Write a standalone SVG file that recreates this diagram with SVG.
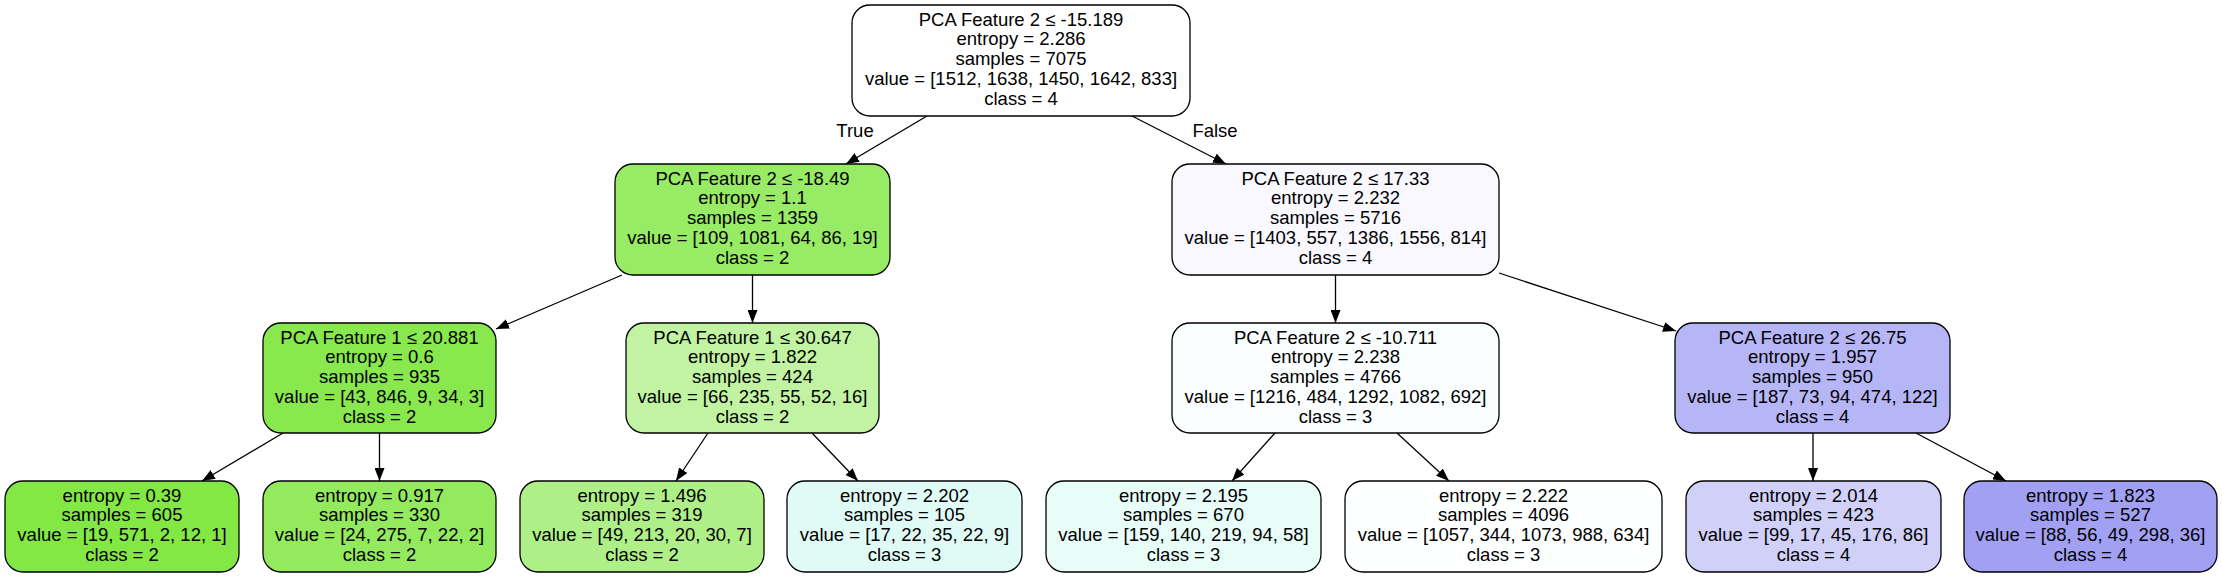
<svg xmlns="http://www.w3.org/2000/svg" width="2222" height="577" viewBox="0 0 2222 577">
<style>
.node rect{stroke:#000;stroke-width:1.3}
text{font-family:"Liberation Sans",Arial,Helvetica,sans-serif;font-size:18.5px;text-anchor:middle;fill:#000}
.edges line{stroke:#000;stroke-width:1.3;marker-end:url(#arr)}
</style>
<defs>
<marker id="arr" viewBox="0 0 13 10" refX="13" refY="5" markerWidth="13" markerHeight="10" markerUnits="userSpaceOnUse" orient="auto">
<path d="M0,0 L13,5 L0,10 z" fill="#000"/>
</marker>
</defs>
<rect width="2222" height="577" fill="#fff"/>
<g class="edges" id="edges">
<line x1="927" y1="116" x2="846" y2="164"/>
<line x1="1132" y1="116" x2="1226" y2="164"/>
<line x1="622" y1="275" x2="496" y2="329"/>
<line x1="752.5" y1="275" x2="752.5" y2="323"/>
<line x1="1335.5" y1="275" x2="1335.5" y2="323"/>
<line x1="1499" y1="273" x2="1676" y2="331"/>
<line x1="283" y1="433" x2="202" y2="481"/>
<line x1="379.5" y1="433" x2="379.5" y2="481"/>
<line x1="708" y1="433" x2="676" y2="481"/>
<line x1="812" y1="433" x2="858" y2="481"/>
<line x1="1275" y1="433" x2="1232" y2="481"/>
<line x1="1397" y1="433" x2="1449" y2="481"/>
<line x1="1813" y1="433" x2="1813" y2="481"/>
<line x1="1916" y1="433" x2="2006" y2="481"/>
<text x="855" y="137">True</text>
<text x="1215" y="137">False</text>
</g>
<g class="node" id="n0">
<rect x="852" y="5" width="338" height="111" rx="18" fill="#ffffff"/>
<text x="1021" y="25.5">PCA Feature 2 ≤ -15.189</text>
<text x="1021" y="45.25">entropy = 2.286</text>
<text x="1021" y="65">samples = 7075</text>
<text x="1021" y="84.75">value = [1512, 1638, 1450, 1642, 833]</text>
<text x="1021" y="104.5">class = 4</text>
</g>
<g class="node" id="n1">
<rect x="615" y="164" width="275" height="111" rx="18" fill="#98eb65"/>
<text x="752.5" y="184.5">PCA Feature 2 ≤ -18.49</text>
<text x="752.5" y="204.25">entropy = 1.1</text>
<text x="752.5" y="224">samples = 1359</text>
<text x="752.5" y="243.75">value = [109, 1081, 64, 86, 19]</text>
<text x="752.5" y="263.5">class = 2</text>
</g>
<g class="node" id="n2">
<rect x="1172" y="164" width="327" height="111" rx="18" fill="#f8f8fe"/>
<text x="1335.5" y="184.5">PCA Feature 2 ≤ 17.33</text>
<text x="1335.5" y="204.25">entropy = 2.232</text>
<text x="1335.5" y="224">samples = 5716</text>
<text x="1335.5" y="243.75">value = [1403, 557, 1386, 1556, 814]</text>
<text x="1335.5" y="263.5">class = 4</text>
</g>
<g class="node" id="n3">
<rect x="263" y="323" width="233" height="110" rx="18" fill="#88e84d"/>
<text x="379.5" y="343.5">PCA Feature 1 ≤ 20.881</text>
<text x="379.5" y="363.25">entropy = 0.6</text>
<text x="379.5" y="383">samples = 935</text>
<text x="379.5" y="402.75">value = [43, 846, 9, 34, 3]</text>
<text x="379.5" y="422.5">class = 2</text>
</g>
<g class="node" id="n4">
<rect x="626" y="323" width="253" height="110" rx="18" fill="#c1f3a2"/>
<text x="752.5" y="343.5">PCA Feature 1 ≤ 30.647</text>
<text x="752.5" y="363.25">entropy = 1.822</text>
<text x="752.5" y="383">samples = 424</text>
<text x="752.5" y="402.75">value = [66, 235, 55, 52, 16]</text>
<text x="752.5" y="422.5">class = 2</text>
</g>
<g class="node" id="n5">
<rect x="1172" y="323" width="327" height="110" rx="18" fill="#fbfefe"/>
<text x="1335.5" y="343.5">PCA Feature 2 ≤ -10.711</text>
<text x="1335.5" y="363.25">entropy = 2.238</text>
<text x="1335.5" y="383">samples = 4766</text>
<text x="1335.5" y="402.75">value = [1216, 484, 1292, 1082, 692]</text>
<text x="1335.5" y="422.5">class = 3</text>
</g>
<g class="node" id="n6">
<rect x="1675" y="323" width="275" height="110" rx="18" fill="#b6b5f5"/>
<text x="1812.5" y="343.5">PCA Feature 2 ≤ 26.75</text>
<text x="1812.5" y="363.25">entropy = 1.957</text>
<text x="1812.5" y="383">samples = 950</text>
<text x="1812.5" y="402.75">value = [187, 73, 94, 474, 122]</text>
<text x="1812.5" y="422.5">class = 4</text>
</g>
<g class="node" id="l1">
<rect x="5" y="481" width="234" height="91" rx="18" fill="#83e744"/>
<text x="122" y="501.5">entropy = 0.39</text>
<text x="122" y="521.25">samples = 605</text>
<text x="122" y="541">value = [19, 571, 2, 12, 1]</text>
<text x="122" y="560.75">class = 2</text>
</g>
<g class="node" id="l2">
<rect x="263" y="481" width="233" height="91" rx="18" fill="#93ea5d"/>
<text x="379.5" y="501.5">entropy = 0.917</text>
<text x="379.5" y="521.25">samples = 330</text>
<text x="379.5" y="541">value = [24, 275, 7, 22, 2]</text>
<text x="379.5" y="560.75">class = 2</text>
</g>
<g class="node" id="l3">
<rect x="520" y="481" width="244" height="91" rx="18" fill="#afef87"/>
<text x="642" y="501.5">entropy = 1.496</text>
<text x="642" y="521.25">samples = 319</text>
<text x="642" y="541">value = [49, 213, 20, 30, 7]</text>
<text x="642" y="560.75">class = 2</text>
</g>
<g class="node" id="l4">
<rect x="787" y="481" width="235" height="91" rx="18" fill="#e0fbf6"/>
<text x="904.5" y="501.5">entropy = 2.202</text>
<text x="904.5" y="521.25">samples = 105</text>
<text x="904.5" y="541">value = [17, 22, 35, 22, 9]</text>
<text x="904.5" y="560.75">class = 3</text>
</g>
<g class="node" id="l5">
<rect x="1046" y="481" width="275" height="91" rx="18" fill="#e8fcf8"/>
<text x="1183.5" y="501.5">entropy = 2.195</text>
<text x="1183.5" y="521.25">samples = 670</text>
<text x="1183.5" y="541">value = [159, 140, 219, 94, 58]</text>
<text x="1183.5" y="560.75">class = 3</text>
</g>
<g class="node" id="l6">
<rect x="1345" y="481" width="317" height="91" rx="18" fill="#feffff"/>
<text x="1503.5" y="501.5">entropy = 2.222</text>
<text x="1503.5" y="521.25">samples = 4096</text>
<text x="1503.5" y="541">value = [1057, 344, 1073, 988, 634]</text>
<text x="1503.5" y="560.75">class = 3</text>
</g>
<g class="node" id="l7">
<rect x="1686" y="481" width="255" height="91" rx="18" fill="#d1d0f9"/>
<text x="1813.5" y="501.5">entropy = 2.014</text>
<text x="1813.5" y="521.25">samples = 423</text>
<text x="1813.5" y="541">value = [99, 17, 45, 176, 86]</text>
<text x="1813.5" y="560.75">class = 4</text>
</g>
<g class="node" id="l8">
<rect x="1964" y="481" width="253" height="91" rx="18" fill="#a2a0f3"/>
<text x="2090.5" y="501.5">entropy = 1.823</text>
<text x="2090.5" y="521.25">samples = 527</text>
<text x="2090.5" y="541">value = [88, 56, 49, 298, 36]</text>
<text x="2090.5" y="560.75">class = 4</text>
</g>
</svg>
